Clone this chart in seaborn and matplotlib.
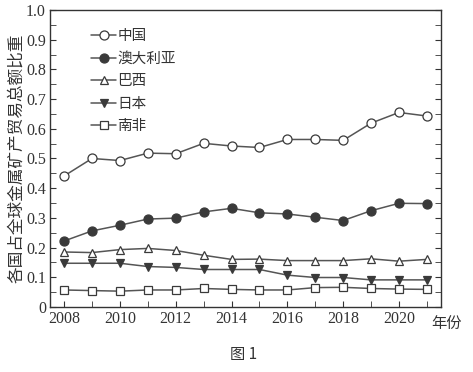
import numpy as np
import pandas as pd
import matplotlib
matplotlib.use('Agg')
import matplotlib.pyplot as plt
import seaborn as sns
from matplotlib.ticker import MultipleLocator

years = list(range(2008, 2022))
china = [0.441, 0.500, 0.493, 0.518, 0.516, 0.551, 0.542, 0.537, 0.564, 0.564, 0.561, 0.619, 0.655, 0.643]
australia = [0.222, 0.256, 0.275, 0.296, 0.299, 0.320, 0.332, 0.317, 0.313, 0.302, 0.291, 0.324, 0.349, 0.348]
brazil = [0.185, 0.183, 0.193, 0.197, 0.190, 0.174, 0.160, 0.161, 0.156, 0.156, 0.156, 0.162, 0.154, 0.160]
japan = [0.147, 0.147, 0.147, 0.136, 0.133, 0.126, 0.126, 0.126, 0.107, 0.099, 0.099, 0.091, 0.091, 0.091]
south_africa = [0.057, 0.055, 0.053, 0.057, 0.057, 0.062, 0.059, 0.057, 0.057, 0.065, 0.066, 0.062, 0.060, 0.059]

countries = ['中国', '澳大利亚', '巴西', '日本', '南非']
series = [china, australia, brazil, japan, south_africa]
markers = {'中国': 'o', '澳大利亚': 'o', '巴西': '^', '日本': 'v', '南非': 's'}
faces = {'中国': 'white', '澳大利亚': '#3a3a3a', '巴西': 'white', '日本': '#3a3a3a', '南非': 'white'}

df = pd.DataFrame({'year': np.tile(years, len(countries)),
                   'country': np.repeat(countries, len(years)),
                   'share': np.concatenate(series)})

sns.set_style('ticks')
plt.rcParams['font.family'] = ['Liberation Serif', 'Noto Sans CJK SC']
cjk = ['Noto Sans CJK SC', 'DejaVu Sans']
line_col = '#555555'

fig = plt.figure(figsize=(4.73, 3.72), dpi=100)
ax = fig.add_axes([0.106, 0.175, 0.826, 0.798])

for c in countries:
    sub = df[df['country'] == c]
    sns.lineplot(data=sub, x='year', y='share', ax=ax, color=line_col, lw=1.1,
                 marker=markers[c], markersize=6.5 if markers[c] == 'o' else 6,
                 markerfacecolor=faces[c], markeredgecolor='#3a3a3a',
                 markeredgewidth=0.9, label=c)

ax.set_xlim(2007.5, 2021.5)
ax.set_ylim(0, 1.0)
ax.xaxis.set_major_locator(MultipleLocator(2))
ax.xaxis.set_minor_locator(MultipleLocator(1))
ax.yaxis.set_major_locator(MultipleLocator(0.1))
ax.yaxis.set_minor_locator(MultipleLocator(0.05))
ax.set_yticks(np.arange(0, 1.01, 0.1))
ax.set_yticklabels(['0'] + ['%.1f' % v for v in np.arange(0.1, 1.01, 0.1)])
ax.tick_params(axis='both', which='both', direction='in', labelsize=11.5,
               colors='#333333', right=True, top=False, pad=3)
ax.tick_params(axis='both', which='major', length=4)
ax.tick_params(axis='both', which='minor', length=4)
for s in ax.spines.values():
    s.set_color('#333333')
    s.set_linewidth(1.0)

ax.set_xlabel('')
ax.set_ylabel('各国占全球金属矿产贸易总额比重', family=cjk, fontsize=12, color='#333333', labelpad=1)
ax.text(0.975, -0.028, '年份', transform=ax.transAxes, family=cjk, fontsize=11,
        color='#333333', ha='left', va='top')
fig.text(0.515, 0.035, '图 1', family=cjk, fontsize=11, color='#333333', ha='center')

leg = ax.legend(loc='upper left', bbox_to_anchor=(0.09, 0.955), frameon=False,
                prop={'family': cjk, 'size': 10.5}, handlelength=1.7,
                handletextpad=0.1, labelspacing=0.58, borderaxespad=0)
for t in leg.get_texts():
    t.set_color('#333333')

fig.savefig('out.png', dpi=100)
